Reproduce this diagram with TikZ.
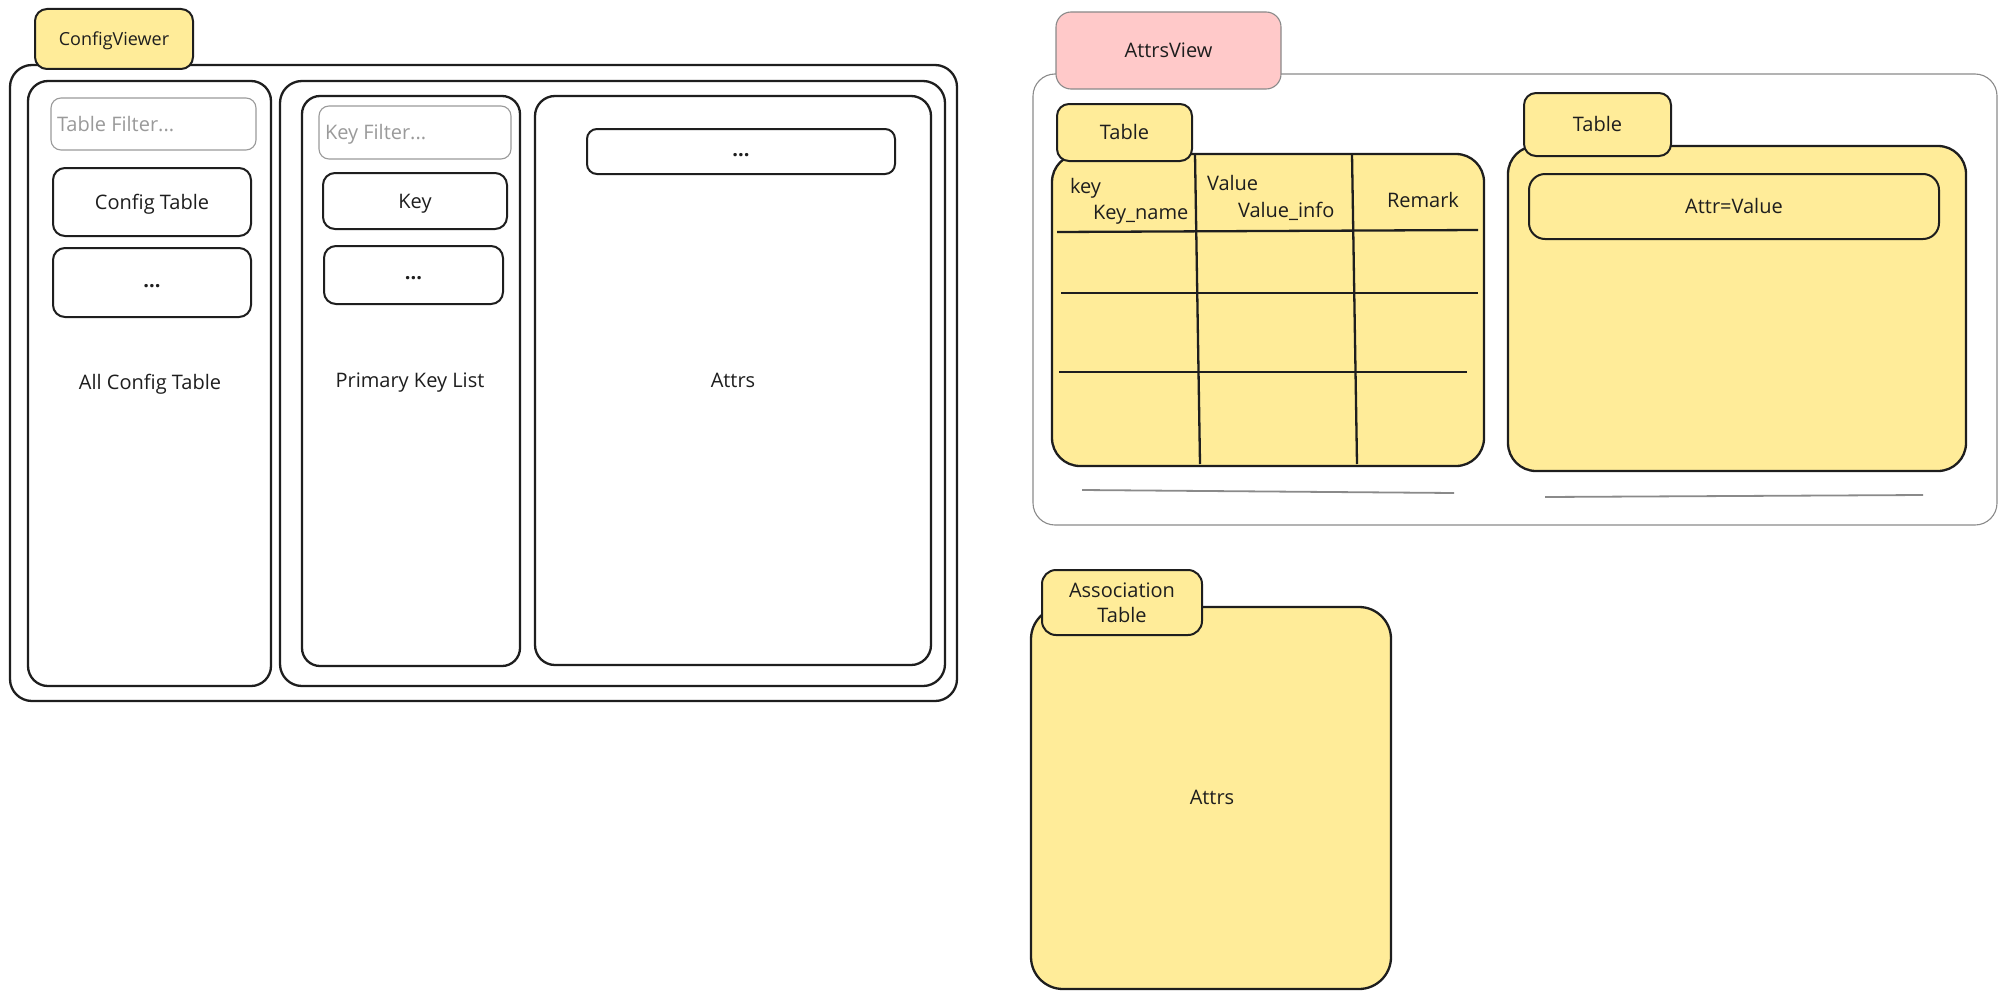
\documentclass[tikz,border=0pt]{standalone}
\usepackage{fontspec}
\setmainfont{Open Sans}
\definecolor{noteyellow}{HTML}{FFEC99}
\definecolor{notepink}{HTML}{FFC9C9}
\definecolor{ink}{HTML}{1E1E1E}
\definecolor{hint}{HTML}{9A9A9A}
\definecolor{rule}{HTML}{8A8A8A}
\begin{document}
\begin{tikzpicture}[x=1pt,y=-1pt,
  every node/.style={inner sep=0pt, outer sep=0pt, font=\fontsize{20}{25}\selectfont, text=ink,
                     text height=14.3pt, text depth=0pt},
  panel/.style={draw=ink, line width=2.3pt, fill=white, rounded corners=#1},
  panel/.default=22pt,
  btn/.style={draw=ink, line width=2pt, fill=white, rounded corners=12pt},
  inputbox/.style={draw=hint, line width=1.1pt, fill=white, rounded corners=10pt},
  hinttext/.style={text=hint, anchor=west},
  note/.style={draw=ink, line width=2.3pt, fill=noteyellow, rounded corners=#1},
  note/.default=28pt,
  tab/.style={draw=ink, line width=2pt, fill=noteyellow, rounded corners=12pt},
  thinframe/.style={draw=rule, line width=1.1pt, rounded corners=22pt},
  pinktab/.style={draw=rule, line width=1.1pt, fill=notepink, rounded corners=15pt},
  grid/.style={draw=ink, line width=2.3pt},
  underline/.style={draw=rule, line width=1.8pt},
  dots/.style={font=\fontsize{20}{25}\selectfont\bfseries, text height=9pt},
]
\useasboundingbox (0,0) rectangle (2007,998);

% ---------------- ConfigViewer ----------------
\node[panel, minimum width=947pt, minimum height=636pt] (cvOuter) at (483.5,383) {};
\node[tab, minimum width=158pt, minimum height=60pt, font=\fontsize{18}{22}\selectfont, text height=13pt] (cvTab) at (114,39) {ConfigViewer};

% left column: table list
\node[panel=20pt, minimum width=243pt, minimum height=605pt] (colTables) at (149.5,383.5) {};
\node[inputbox, minimum width=205pt, minimum height=52pt] (tableFilter) at (153.5,124) {};
\node[hinttext] (tableFilterText) at (57,124) {Table Filter...};
\node[btn, minimum width=198pt, minimum height=68pt] (btnConfig) at (152,202) {Config Table};
\node[btn, minimum width=198pt, minimum height=69pt, dots] (btnMore1) at (152,282.5) {...};
\node (lblTables) at (150,382) {All Config Table};

% right group: keys and attributes
\node[panel, minimum width=665pt, minimum height=605pt] (rightGroup) at (612.5,383.5) {};
\node[panel=18pt, minimum width=218pt, minimum height=570pt] (colKeys) at (411,381) {};
\node[inputbox, minimum width=192pt, minimum height=53pt] (keyFilter) at (415,132.5) {};
\node[hinttext] (keyFilterText) at (325,132.5) {Key Filter...};
\node[btn, minimum width=184pt, minimum height=56pt] (btnKey) at (415,201) {Key};
\node[btn, minimum width=179pt, minimum height=58pt, dots] (btnMore2) at (413.5,275) {...};
\node (lblKeys) at (410,380) {Primary Key List};

\node[panel=20pt, minimum width=396pt, minimum height=569pt] (colAttrs) at (733,380.5) {};
\node[btn, rounded corners=10pt, minimum width=308pt, minimum height=45pt, dots] (btnMore3) at (741,151.5) {...};
\node (lblAttrs) at (733,380) {Attrs};

% ---------------- AttrsView ----------------
\node[thinframe, minimum width=964pt, minimum height=451pt] (avOuter) at (1515,299.5) {};
\node[pinktab, minimum width=225pt, minimum height=77pt] (avTab) at (1168.5,50.5) {AttrsView};

% key / value / remark table
\node[note, minimum width=432pt, minimum height=312pt] (tblA) at (1268,310) {};
\coordinate (vA1) at (1195,154);  \coordinate (vA2) at (1200,464);
\coordinate (vB1) at (1352,154);  \coordinate (vB2) at (1357,464);
\coordinate (hA1) at (1057,232);  \coordinate (hA2) at (1478,230);
\coordinate (hB1) at (1061,293);  \coordinate (hB2) at (1478,293);
\coordinate (hC1) at (1059,372);  \coordinate (hC2) at (1467,372);
\draw[grid] (vA1) -- (vA2);
\draw[grid] (vB1) -- (vB2);
\draw[grid] (hA1) -- (hA2);
\draw[grid] (hB1) -- (hB2);
\draw[grid] (hC1) -- (hC2);
\node[tab, minimum width=135pt, minimum height=57pt] (tblATab) at (1124.5,132.5) {Table};
\node[anchor=west] (hdrKey) at (1070,186) {key};
\node[anchor=west] (hdrKeyName) at (1093,212) {Key\_name};
\node[anchor=west] (hdrValue) at (1207,183) {Value};
\node[anchor=west] (hdrValueInfo) at (1238,210) {Value\_info};
\node[anchor=west] (hdrRemark) at (1387,200) {Remark};
\coordinate (ulA1) at (1082,490); \coordinate (ulA2) at (1454,493);
\draw[underline] (ulA1) -- (ulA2);

% attribute list table
\node[note, minimum width=458pt, minimum height=325pt] (tblB) at (1737,308.5) {};
\node[tab, minimum width=147pt, minimum height=63pt] (tblBTab) at (1597.5,124.5) {Table};
\node[draw=ink, line width=2pt, rounded corners=16pt, minimum width=410pt, minimum height=65pt] (attrValue) at (1734,206.5) {Attr=Value};
\coordinate (ulB1) at (1545,497); \coordinate (ulB2) at (1923,495);
\draw[underline] (ulB1) -- (ulB2);

% ---------------- Association table ----------------
\node[note=32pt, minimum width=360pt, minimum height=382pt] (assocBox) at (1211,798) {};
\node[tab, rounded corners=14pt, minimum width=160pt, minimum height=65pt, align=center,
      text height=, text depth=, font=\fontsize{20}{25}\selectfont] (assocTab) at (1122,602.5) {Association\\Table};
\node (lblAssoc) at (1212,797) {Attrs};
\end{tikzpicture}
\end{document}
